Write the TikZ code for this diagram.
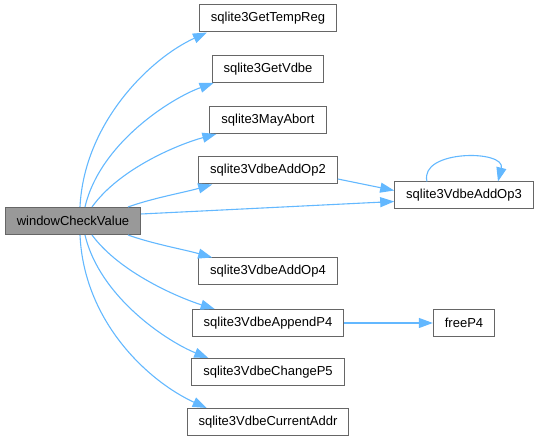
\documentclass[tikz,border=0pt]{standalone}
\usepackage{fontspec}
\setmainfont{Liberation Sans}
\usetikzlibrary{arrows.meta}
\definecolor{graphedge}{HTML}{63B8FF}
\definecolor{graphline}{HTML}{666666}
\definecolor{graphmain}{HTML}{999999}

\begin{document}
\begin{tikzpicture}[x=1pt,y=1pt,
    fn/.style={draw=graphline,line width=1pt,fill=white,inner xsep=11.5pt,
      minimum height=27pt,font=\fontsize{13}{15}\selectfont},
    call/.style={draw=graphedge,line width=1.1pt,
      -{Triangle[length=14pt,width=10pt]}}]
        \useasboundingbox (0,0) rectangle (538,443);

        \node[fn,fill=graphmain] (main) at (73,222) {windowCheckValue};

        \node[fn] (temp) at (268,424.5) {sqlite3GetTempReg};
        \node[fn] (vdbe) at (268,374) {sqlite3GetVdbe};
        \node[fn] (abort) at (268,323) {sqlite3MayAbort};
        \node[fn] (op2) at (268,272.5) {sqlite3VdbeAddOp2};
        \node[fn] (op4) at (268,171.5) {sqlite3VdbeAddOp4};
        \node[fn] (app) at (268,120) {sqlite3VdbeAppendP4};
        \node[fn] (p5) at (268,71) {sqlite3VdbeChangeP5};
        \node[fn] (addr) at (268,21) {sqlite3VdbeCurrentAddr};
        \node[fn] (op3) at (464,247.5) {sqlite3VdbeAddOp3};
        \node[fn] (free) at (464,120) {freeP4};

        % calls above the main node
        \draw[call] ([xshift=7pt]main.north) .. controls +(4,84) and +(-57,-26) .. ([xshift=8pt]temp.south west);
        \draw[call] ([xshift=12pt]main.north) .. controls +(15,64) and +(-42,-15) .. ([xshift=2pt]vdbe.south west);
        \draw[call] ([xshift=19pt]main.north) .. controls +(28,39) and +(-37,-10) .. ([xshift=7pt]abort.south west);
        \draw[call] ([xshift=55pt]main.north) .. controls +(25,9) and +(-28,-8) .. ([xshift=14pt]op2.south west);

        \draw[call] ([yshift=7pt]main.east) -- ([yshift=-6pt]op3.west);
        \draw[call] ([yshift=-8.5pt]op2.east) -- ([yshift=5pt]op3.west);
        \draw[call] ([xshift=-37pt]op3.north) .. controls +(-8,32) and +(8,32) .. ([xshift=34pt]op3.north);

        % calls below the main node
        \draw[call] ([xshift=55pt]main.south) .. controls +(25,-9) and +(-28,8) .. ([xshift=14pt]op4.north west);
        \draw[call] ([xshift=19pt]main.south) .. controls +(28,-38) and +(-35,11) .. ([xshift=23pt]app.north west);
        \draw[call] ([xshift=12pt]main.south) .. controls +(15,-63) and +(-40,16) .. ([xshift=17pt]p5.north west);
        \draw[call] ([xshift=7pt]main.south) .. controls +(4,-88) and +(-57,26) .. ([xshift=20pt]addr.north west);

        \draw[call] (app) -- (free);
      \end{tikzpicture}
\end{document}
